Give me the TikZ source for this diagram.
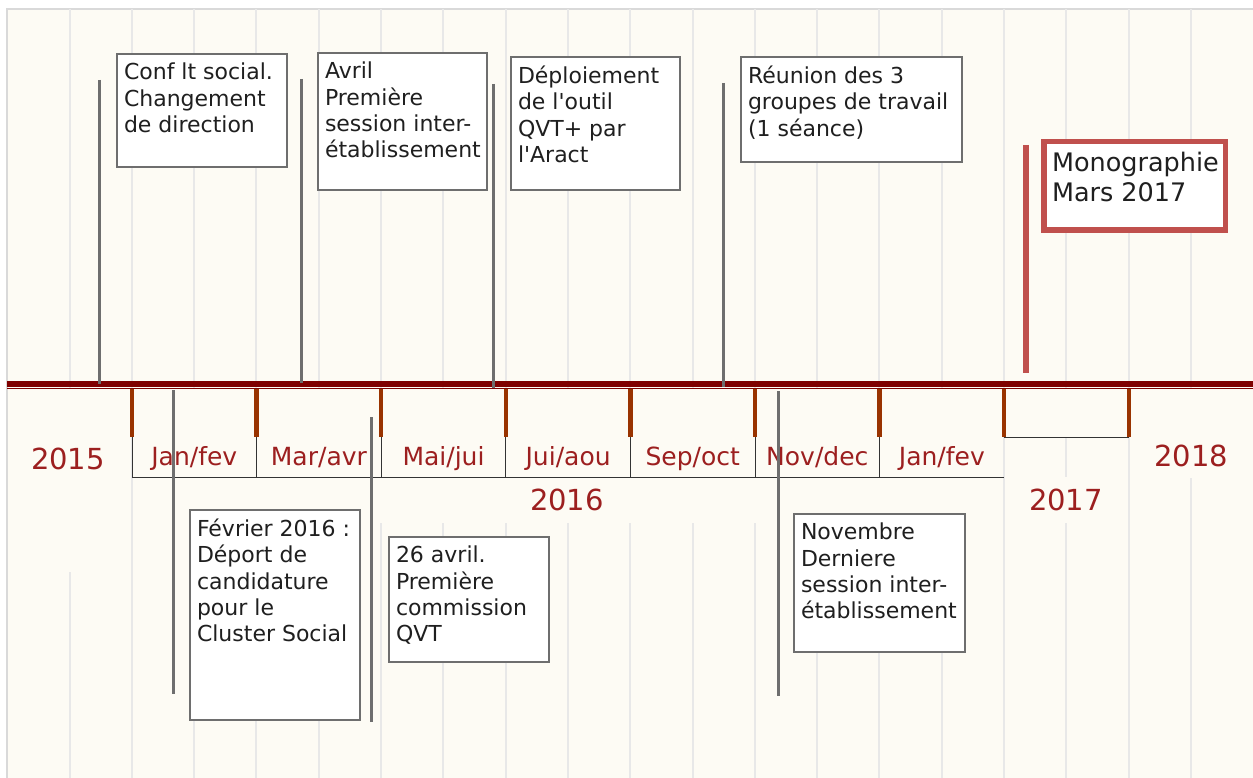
\documentclass[tikz,border=0pt]{standalone}
\usepackage{fontspec}
\setmainfont{DejaVu Sans}
\usepackage{tikz}
\usetikzlibrary{positioning,calc}
\definecolor{bgcream}{HTML}{FDFBF4}
\definecolor{gridgray}{HTML}{E8E8E8}
\definecolor{bordergray}{HTML}{D9D9D9}
\definecolor{axisred}{HTML}{7F0000}
\definecolor{tickbrown}{HTML}{993300}
\definecolor{labelred}{HTML}{9C1F1F}
\definecolor{boxgray}{HTML}{6E6E6E}
\definecolor{monored}{HTML}{C0504D}
\definecolor{txtdark}{HTML}{1F1F1F}
\tikzstyle{pole}=[draw=boxgray,line width=3pt]
\tikzstyle{event}=[rectangle,draw=boxgray,fill=white,line width=2pt,anchor=north west,inner xsep=7pt,inner ysep=9pt,text=txtdark,font=\fontsize{22}{26.3}\selectfont]
\newcommand{\evtext}[3]{\parbox[t][#1pt][t]{#2pt}{\raggedright\hyphenpenalty=10000 #3}}

\begin{document}
\begin{tikzpicture}[x=1pt,y=-1pt,
            gridline/.style={draw=gridgray,line width=2pt},
            mask/.style={fill=bgcream},
            timeline/.style={draw=axisred},
            monthtick/.style={draw=tickbrown,line width=4.5pt},
            bracket/.style={draw=black!80,line width=1pt},
            monthlabel/.style={anchor=base,text=labelred,font=\fontsize{25}{30}\selectfont},
            yearlabel/.style={anchor=base,text=labelred,font=\fontsize{29}{34}\selectfont}
        ]
            \useasboundingbox (0,0) rectangle (1253,778);
            % Background and grid
            \fill[bgcream] (7,9) rectangle (1253,778);
            \draw[draw=bordergray,line width=1.5pt] (7,778) -- (7,9) -- (1253,9);
            \foreach \k in {0,...,18}
                \draw[gridline] ({69.5+62.3*\k},9) -- ({69.5+62.3*\k},778);
            \fill[mask] (8,389) rectangle (1253,437);
            \fill[mask] (8,437) rectangle (126,572);
            \fill[mask] (135,437) rectangle (1001,523);
            \fill[mask] (1010,477) rectangle (1125,523);
            \fill[mask] (1133,437) rectangle (1253,478);

            % Timeline
            \draw[timeline,line width=5.5pt] (7,383.8) -- (1253,383.8);
            \draw[timeline,line width=1.5pt] (7,388.6) -- (1253,388.6);
            \foreach \k in {0,...,8}
                \draw[monthtick] ({132+124.6*\k},389.3) -- ({132+124.6*\k},437);
            \foreach \k in {0,...,6}
                \draw[bracket] ({132+124.6*\k},437) -- ({132+124.6*\k},477);
            \draw[bracket] (132,477) -- (1004.2,477);
            \draw[bracket] (1004.2,437) -- (1128.8,437);

            \foreach \m [count=\i from 0] in {{Jan/fev},{Mar/avr},{Mai/jui},{Jui/aou},{Sep/oct},{Nov/dec},{Jan/fev}}
                \node[monthlabel] (month\i) at ({194.3+124.6*\i},465) {\m};
            \node[yearlabel] (y2015) at (68,469.6) {2015};
            \node[yearlabel] (y2016) at (567,510.6) {2016};
            \node[yearlabel] (y2017) at (1066,510.6) {2017};
            \node[yearlabel] (y2018) at (1191,466.6) {2018};

            % Events
            \node[event] (conflit) at (116,53) {\evtext{95}{156}{Conf lt social.\\Changement\\de direction}};
            \node[event] (avril) at (317,52) {\evtext{119}{155}{Avril\\Première\\session inter-\\établissement}};
            \node[event] (deploiement) at (510,56) {\evtext{115}{155}{Déploiement\\de l\textquotesingle outil\\QVT+ par\\l\textquotesingle Aract}};
            \node[event] (reunion) at (740,56) {\evtext{87}{207}{Réunion des 3\\groupes de travail\\(1 séance)}};
            \node[event] (fevrier) at (189,509) {\evtext{192}{156}{Février 2016~:\\Déport de\\candidature\\pour le\\Cluster Social}};
            \node[event] (commission) at (388,536) {\evtext{107}{146}{26 avril.\\Première\\commission\\QVT}};
            \node[event] (novembre) at (793,513) {\evtext{120}{157}{Novembre\\Derniere\\session inter-\\établissement}};
            \node[event,draw=monored,line width=5.5pt,inner xsep=8.25pt,inner ysep=10.2pt,font=\fontsize{25.5}{30}\selectfont] (monographie) at (1041,139) {\evtext{68}{165}{Monographie\\Mars 2017}};

            % Draw poles
            \draw[pole] ([shift={(-17,27)}]conflit.north west) -- ++(0,304);
            \draw[pole] ([shift={(-16,27)}]avril.north west) -- ++(0,304);
            \draw[pole] ([shift={(-17,28)}]deploiement.north west) -- ++(0,304);
            \draw[pole] ([shift={(-17,27)}]reunion.north west) -- ++(0,304);
            \draw[pole] ([shift={(-16,-119)}]fevrier.north west) -- ++(0,304);
            \draw[pole] ([shift={(-17,-119)}]commission.north west) -- ++(0,305);
            \draw[pole] ([shift={(-15,-122)}]novembre.north west) -- ++(0,305);
            \draw[pole,draw=monored,line width=6pt] ([shift={(-15,6)}]monographie.north west) -- ++(0,228);
        \end{tikzpicture}
\end{document}
